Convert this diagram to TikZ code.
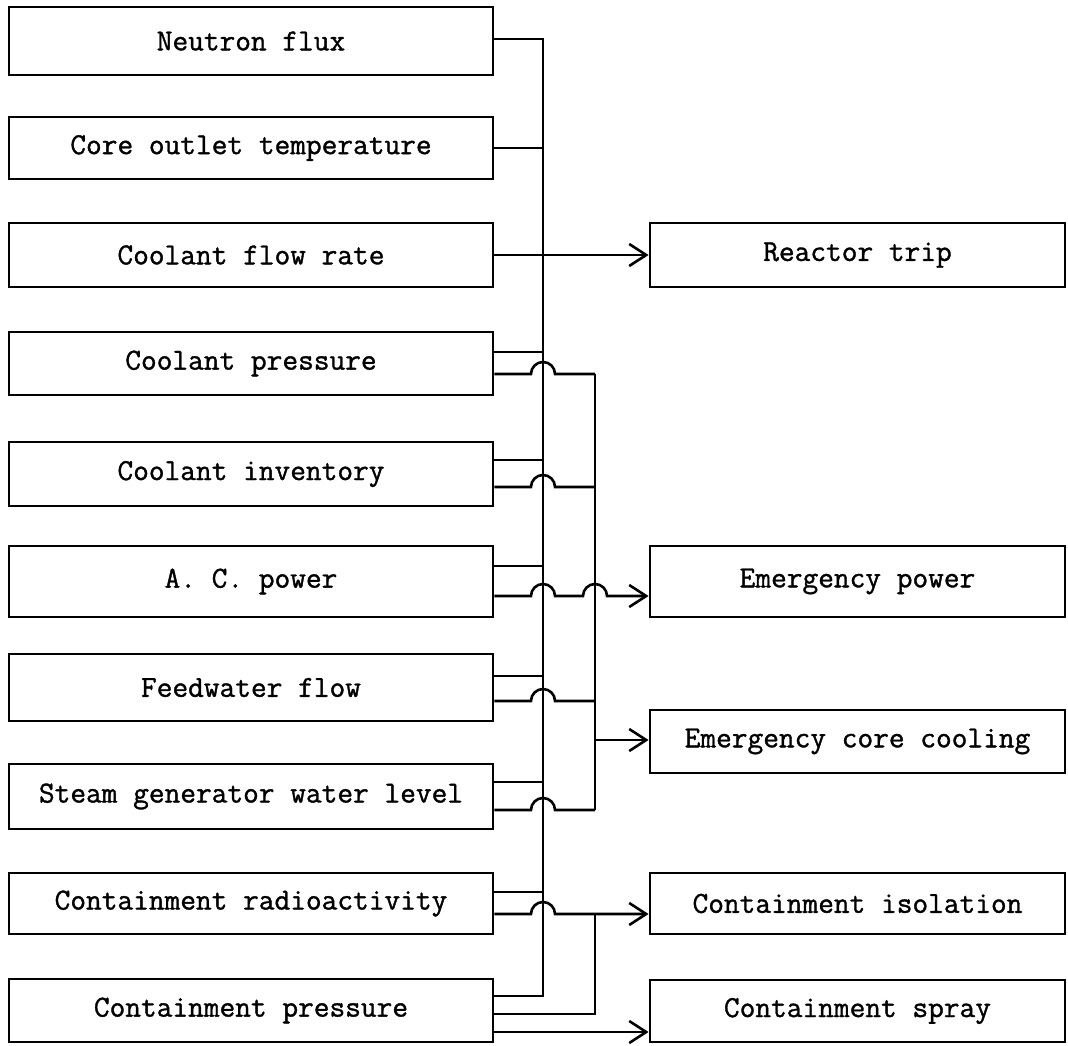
\documentclass[tikz,border=0pt]{standalone}
\usepackage{fontspec}
\newfontfamily\twfont[BoldFont={Latin Modern Mono},BoldFeatures={FakeBold=1.2}]{Latin Modern Mono}
\usetikzlibrary{arrows.meta,calc}
\begin{document}
\begin{tikzpicture}[x=1pt,y=-1pt,
  line width=2.6pt,
  box/.style={draw,line width=2.8pt,inner sep=0pt,font=\twfont\bfseries\fontsize{30.5}{34}\selectfont},
  lbox/.style={box,minimum width=484pt},
  rbox/.style={box,minimum width=415pt},
  arr/.style={-{Straight Barb[length=17pt,width=22pt]}}]
\useasboundingbox (0,0) rectangle (1068,1045);
% left boxes
\node[lbox,minimum height=68pt] (n1) at (251,41) {Neutron flux};
\node[lbox,minimum height=62pt] (n2) at (251,148) {Core outlet temperature};
\node[lbox,minimum height=64pt] (n3) at (251,255) {Coolant flow rate};
\node[lbox,minimum height=63pt] (n4) at (251,363.5) {Coolant pressure};
\node[lbox,minimum height=64pt] (n5) at (251,474) {Coolant inventory};
\node[lbox,minimum height=71pt] (n6) at (251,581.5) {A. C. power};
\node[lbox,minimum height=67pt] (n7) at (251,687.5) {Feedwater flow};
\node[lbox,minimum height=65pt] (n8) at (251,796.5) {Steam generator water level};
\node[lbox,minimum height=61pt] (n9) at (251,903.5) {Containment radioactivity};
\node[lbox,minimum height=63pt] (n10) at (251,1010.5) {Containment pressure};
% right boxes
\node[rbox,minimum height=64pt] (r1) at (857.5,255) {Reactor trip};
\node[rbox,minimum height=71pt] (r2) at (857.5,581.5) {Emergency power};
\node[rbox,minimum height=63pt] (r3) at (857.5,741.5) {Emergency core cooling};
\node[rbox,minimum height=61pt] (r4) at (857.5,903.5) {Containment isolation};
\node[rbox,minimum height=62pt] (r5) at (857.5,1011) {Containment spray};
% bus A junctions
\coordinate (a1) at (543,39);
\coordinate (a2) at (543,148);
\coordinate (a3) at (543,255);
\coordinate (a4) at (543,352);
\coordinate (a5) at (543,460);
\coordinate (a6) at (543,566);
\coordinate (a7) at (543,676);
\coordinate (a8) at (543,782);
\coordinate (a9) at (543,892);
\coordinate (a10) at (543,996);
% bus B junctions
\coordinate (b4) at (595,374);
\coordinate (b5) at (595,487);
\coordinate (e6) at (595,596);
\coordinate (b7) at (595,701);
\coordinate (bE) at (595,740);
\coordinate (b8) at (595,810);
\coordinate (b9) at (595,914);
\coordinate (b10) at (595,1014);
\coordinate (s10) at (595,1032);
% bus A
\draw (n1.east |- a1) -- (a1) -- (a10) -- (n10.east |- a10);
\draw (n2.east |- a2) -- (a2);
\draw[arr] (n3.east |- a3) -- (r1.west |- a3);
\foreach \i in {4,5,6,7,8,9} {\draw (n\i.east |- a\i) -- (a\i);}
% bus B
\draw (b4) -- (b8);
\foreach \i in {4,5,7,8} {
  \draw (n\i.east |- b\i) -- ($(a\i |- b\i)+(-12pt,0)$) arc[start angle=180,end angle=0,radius=12pt] -- (b\i);
}
\draw[arr] (bE) -- (r3.west |- bE);
% A.C. power to emergency power
\draw[arr] (n6.east |- e6) -- ($(a6 |- e6)+(-12pt,0)$) arc[start angle=180,end angle=0,radius=12pt]
  -- ($(e6)+(-12pt,0)$) arc[start angle=180,end angle=0,radius=12pt] -- (r2.west |- e6);
% containment
\draw[arr] (n9.east |- b9) -- ($(a9 |- b9)+(-12pt,0)$) arc[start angle=180,end angle=0,radius=12pt] -- (r4.west |- b9);
\draw (b9) -- (b10) -- (n10.east |- b10);
\draw[arr] (n10.east |- s10) -- (r5.west |- s10);
\end{tikzpicture}
\end{document}
